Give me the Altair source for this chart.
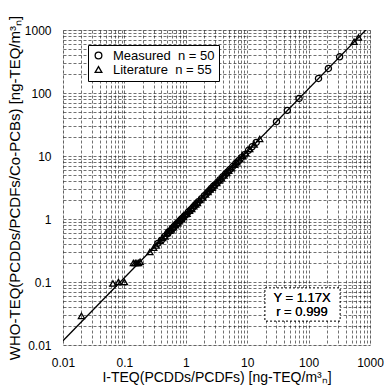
import altair as alt
import pandas as pd

# Measured (circles), n = 50
meas_x = [0.35, 0.4, 0.45, 0.5, 0.52, 0.55, 0.6, 0.62, 0.65, 0.7,
          0.72, 0.75, 0.8, 0.85, 0.9, 0.95, 1.0, 1.1, 1.2, 1.3,
          1.4, 1.5, 1.6, 1.8, 2.0, 2.2, 2.4, 2.6, 2.8, 3.0,
          3.3, 3.6, 4.0, 4.4, 4.8, 5.2, 5.8, 6.5, 7.2, 8.0,
          9.0, 10.5, 12, 14, 30, 45, 70, 145, 210, 320]
meas_y = [0.41, 0.46, 0.53, 0.58, 0.62, 0.64, 0.71, 0.72, 0.77, 0.82,
          0.85, 0.87, 0.94, 1.0, 1.05, 1.12, 1.16, 1.3, 1.4, 1.52,
          1.65, 1.75, 1.88, 2.1, 2.35, 2.57, 2.8, 3.05, 3.3, 3.5,
          3.85, 4.2, 4.7, 5.15, 5.6, 6.1, 6.8, 7.6, 8.4, 9.4,
          10.5, 12.3, 14, 16.4, 35, 53, 82, 170, 245, 375]

# Literature (triangles), n = 55
lit_x = [0.02, 0.065, 0.08, 0.1, 0.14, 0.15, 0.16, 0.17, 0.18, 0.26,
         0.3, 0.33, 0.38, 0.42, 0.46, 0.5, 0.55, 0.58, 0.63, 0.68,
         0.74, 0.78, 0.85, 0.92, 1.0, 1.05, 1.15, 1.25, 1.35, 1.45,
         1.55, 1.7, 1.9, 2.1, 2.3, 2.5, 2.7, 2.9, 3.2, 3.5,
         3.8, 4.2, 4.6, 5.0, 5.5, 6.2, 6.8, 7.6, 8.5, 9.5,
         11, 13, 16, 550, 650]
lit_y = [0.029, 0.095, 0.1, 0.1, 0.2, 0.2, 0.2, 0.2, 0.21, 0.3,
         0.35, 0.38, 0.45, 0.5, 0.53, 0.6, 0.65, 0.68, 0.74, 0.8,
         0.86, 0.92, 1.0, 1.08, 1.2, 1.22, 1.35, 1.45, 1.6, 1.7,
         1.8, 2.0, 2.2, 2.45, 2.7, 2.95, 3.15, 3.4, 3.75, 4.1,
         4.45, 4.9, 5.4, 5.85, 6.4, 7.25, 8.0, 8.9, 10, 11.1,
         12.9, 15.2, 18.7, 650, 760]

series_labels = ["Measured\u00a0\u00a0n = 50", "Literature\u00a0\u00a0n = 55"]

# Regression line Y = 1.17X
line_x = [0.01, 1000]
line_y = [0.0117, 1170]

grid_vals = [m * 10 ** e for e in range(-2, 3) for m in range(1, 10)] + [1000]

df = pd.concat([
    pd.DataFrame({"x": meas_x, "y": meas_y, "s": series_labels[0]}),
    pd.DataFrame({"x": lit_x, "y": lit_y, "s": series_labels[1]}),
])
line_df = pd.DataFrame({"x": line_x, "y": line_y})

label_expr = ("abs(log(datum.value)/LN10 - round(log(datum.value)/LN10)) < 1e-6 "
              "? format(datum.value, '~g') : ''")

xscale = alt.Scale(type="log", domain=[0.01, 1000], nice=False)
yscale = alt.Scale(type="log", domain=[0.01, 1000], nice=False)

common = dict(values=grid_vals, labelExpr=label_expr, grid=True,
              gridDash=[3, 2], gridColor="black", gridOpacity=0.7, gridWidth=0.8,
              ticks=False, domain=False, labelFontSize=12,
              labelColor="black", labelFont="Liberation Sans", labelFlush=False,
              titleFontWeight="normal", titleFont="Liberation Sans",
              titleColor="black", labelOverlap=False)

xaxis = alt.Axis(labelPadding=12, title="I-TEQ(PCDDs/PCDFs) [ng-TEQ/m³ₙ]",
                 titleFontSize=14, titlePadding=2, **common)
yaxis = alt.Axis(labelPadding=12, title="WHO-TEQ(PCDDs/PCDFs/Co-PCBs) [ng-TEQ/m³ₙ]",
                 titleFontSize=15, titlePadding=2, **common)

line = alt.Chart(line_df).mark_line(color="black", strokeWidth=1.3, clip=True).encode(
    x=alt.X("x:Q", scale=xscale, axis=xaxis),
    y=alt.Y("y:Q", scale=yscale, axis=yaxis),
)

points = alt.Chart(df).mark_point(filled=False, size=38, strokeWidth=1.3, color="black",
                                  opacity=1).encode(
    x=alt.X("x:Q", scale=xscale),
    y=alt.Y("y:Q", scale=yscale),
    shape=alt.Shape("s:N", scale=alt.Scale(domain=series_labels,
                                           range=["circle", "triangle-up"]),
                    legend=alt.Legend(title=None, orient="none", legendX=25, legendY=15,
                                      fillColor="white", strokeColor="black",
                                      padding=4, labelFontSize=13,
                                      labelFont="Liberation Sans", labelColor="black",
                                      symbolSize=45, symbolStrokeWidth=1.3,
                                      symbolStrokeColor="black", symbolFillColor="white",
                                      rowPadding=0, cornerRadius=0, labelOffset=8)),
)

box = alt.Chart(line_df).mark_rect(fill="white", stroke="black", strokeDash=[2, 2],
                                   strokeWidth=0.8).encode(
    x=alt.value(202), x2=alt.value(277), y=alt.value(258), y2=alt.value(291)
)
ann1 = alt.Chart(line_df).mark_text(text="Y = 1.17X", fontSize=13, font="Liberation Sans",
                                    color="black").encode(
    x=alt.value(239), y=alt.value(268))
ann2 = alt.Chart(line_df).mark_text(text="r = 0.999", fontSize=13, font="Liberation Sans",
                                    color="black").encode(
    x=alt.value(239), y=alt.value(282))

chart = alt.layer(line, box, ann1, ann2, points).properties(
    width=307, height=315,
    autosize=alt.AutoSizeParams(type="none"),
    padding={"left": 63, "top": 30, "right": 14, "bottom": 45},
).configure_view(stroke="black", strokeWidth=1.5).configure(background="white")

chart.save("out.html", embed_options={"renderer": "svg", "actions": False})
